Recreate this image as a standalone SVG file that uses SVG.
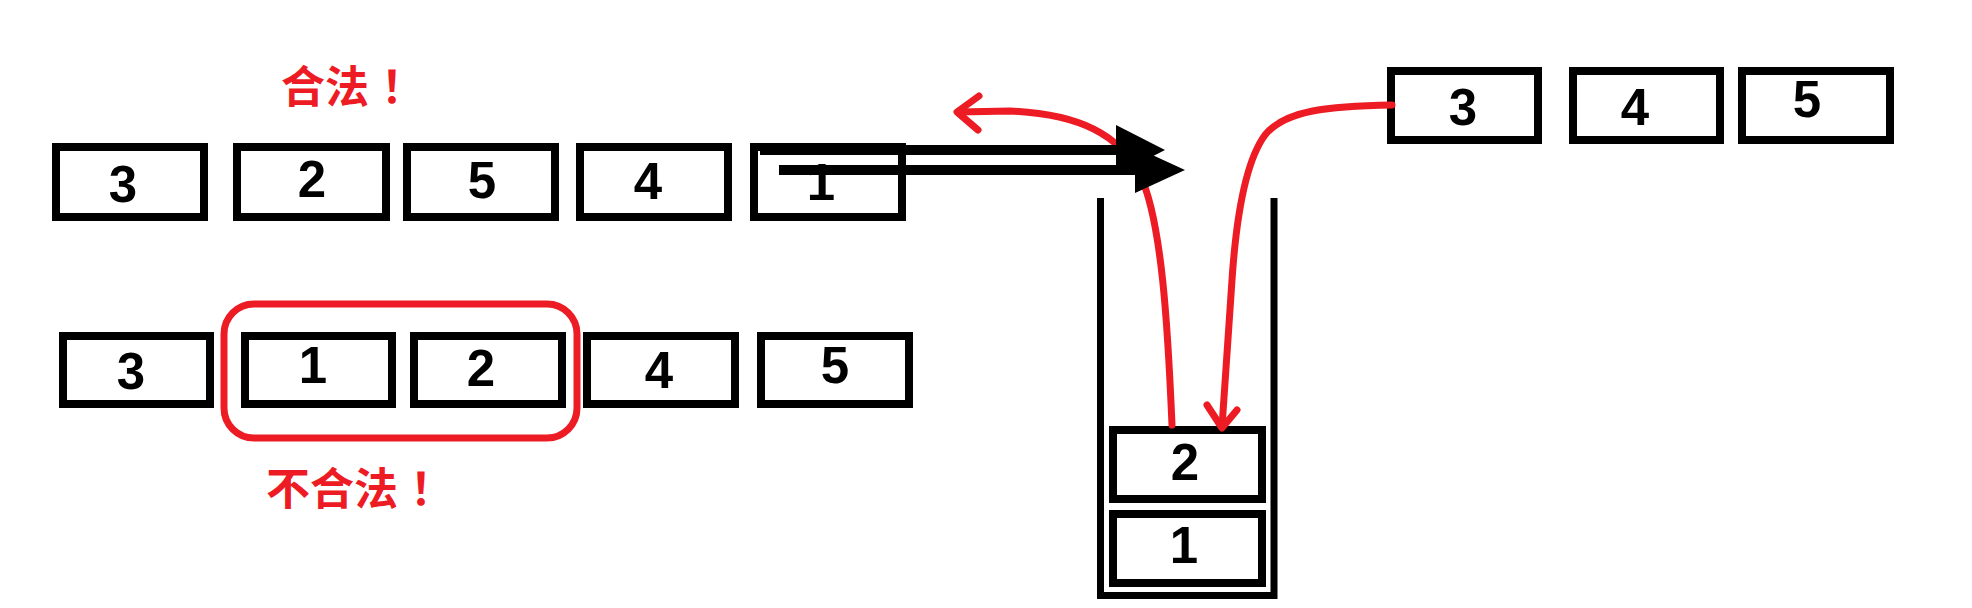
<svg xmlns="http://www.w3.org/2000/svg" width="1972" height="608" viewBox="0 0 1972 608">
<style>
.box{fill:#fff;stroke:#000;stroke-width:8}
.num{font-family:"Liberation Sans",Arial,sans-serif;font-weight:bold;font-size:51px;fill:#000;text-anchor:middle}
.lbl{font-family:"Noto Sans CJK SC",sans-serif;font-weight:bold;font-size:44px;fill:#ED1C24}
.mid{text-anchor:middle}
.red{fill:none;stroke:#ED1C24;stroke-width:7;stroke-linecap:round;stroke-linejoin:round}
.blk{fill:none;stroke:#000;stroke-width:10}
</style>
<rect width="1972" height="608" fill="#fff"/>
<text class="lbl" x="281" y="103">合法</text>
<text class="lbl mid" x="403" y="103">！</text>
<text class="lbl" x="266" y="505">不合法</text>
<text class="lbl mid" x="432" y="505">！</text>

<g id="top-row">
<g id="t3"><rect class="box" x="56" y="147" width="148" height="70"/><text class="num" x="123" y="202">3</text></g>
<g id="t2"><rect class="box" x="237" y="147" width="149" height="70"/><text class="num" x="312" y="197">2</text></g>
<g id="t5"><rect class="box" x="407" y="147" width="148" height="70"/><text class="num" x="482" y="198">5</text></g>
<g id="t4"><rect class="box" x="580" y="147" width="148" height="70"/><text class="num" x="648" y="199">4</text></g>
<g id="t1"><rect class="box" x="754" y="147" width="148" height="70"/><text class="num" x="821" y="200">1</text></g>
</g>

<g id="bottom-row">
<g id="b3"><rect class="box" x="63" y="336" width="147" height="68"/><text class="num" x="131" y="389">3</text></g>
<g id="b1"><rect class="box" x="245" y="336" width="147" height="68"/><text class="num" x="313" y="383">1</text></g>
<g id="b2"><rect class="box" x="414" y="336" width="148" height="68"/><text class="num" x="481" y="386">2</text></g>
<g id="b4"><rect class="box" x="587" y="336" width="148" height="68"/><text class="num" x="659" y="388">4</text></g>
<g id="b5"><rect class="box" x="761" y="336" width="148" height="68"/><text class="num" x="835" y="383">5</text></g>
<rect id="illegal" x="224" y="304" width="353" height="134" rx="30" ry="30" fill="none" stroke="#ED1C24" stroke-width="7"/>
</g>

<g id="right-row">
<g id="r3"><rect class="box" x="1391" y="71" width="147" height="69"/><text class="num" x="1463" y="125">3</text></g>
<g id="r4"><rect class="box" x="1573" y="71" width="147" height="69"/><text class="num" x="1635" y="125">4</text></g>
<g id="r5"><rect class="box" x="1742" y="71" width="148" height="69"/><text class="num" x="1807" y="117">5</text></g>
</g>

<g id="stack">
<path d="M1100.5,198 V595.5 H1274 V198" fill="none" stroke="#000" stroke-width="7"/>
<g id="s2"><rect class="box" x="1113" y="430" width="149" height="69"/><text class="num" x="1185" y="480">2</text></g>
<g id="s1"><rect class="box" x="1113" y="514" width="149" height="69"/><text class="num" x="1184" y="563">1</text></g>
</g>

<g id="connectors">
<path class="red" d="M1172,425 C1168,330 1162,220 1140,175 C1120,135 1080,114 1010,111 L958,112"/>
<polyline class="red" points="979,96 957,112 978,130"/>
<path class="red" d="M1392,105 C1330,106 1285,110 1265,135 C1245,162 1236,220 1232,280 L1222,427"/>
<polyline class="red" points="1207,405 1222,428 1237,410"/>
<path class="blk" d="M760,150 H1120"/>
<polygon points="1116,125 1165,150 1116,175" fill="#000"/>
<path class="blk" d="M779,170 H1139"/>
<polygon points="1135,147 1185,170 1135,193" fill="#000"/>
</g>
</svg>
